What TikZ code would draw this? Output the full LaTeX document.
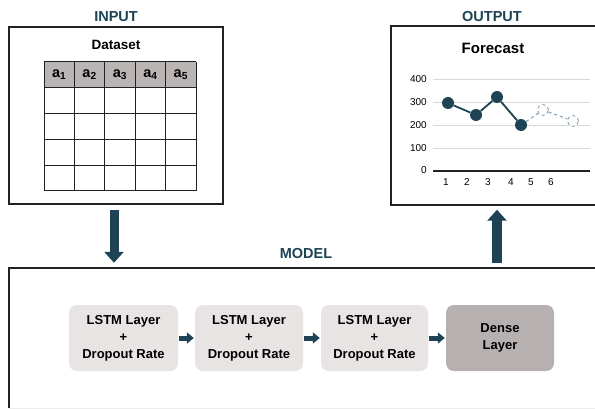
\documentclass[tikz,border=0pt]{standalone}
\usepackage{fontspec}
\setmainfont{Liberation Sans}
\usetikzlibrary{arrows.meta}
\definecolor{teal1}{HTML}{1E4354}
\definecolor{boxgray}{HTML}{E8E4E3}
\definecolor{densegray}{HTML}{B6B0B0}
\definecolor{headgray}{HTML}{BAB4B4}
\definecolor{gridgray}{HTML}{D8D8D8}
\definecolor{dashblue}{HTML}{8EA6B6}
\definecolor{framecol}{HTML}{222222}
\begin{document}
\begin{tikzpicture}[x=1pt,y=-1pt,
  title/.style={font=\fontsize{14.5}{16}\selectfont\bfseries, text=teal1, inner sep=0pt},
  frame/.style={draw=framecol, line width=1.5pt},
  layerbox/.style={fill=boxgray, rounded corners=8pt, minimum height=66pt, align=center,
    font=\fontsize{13}{17}\selectfont\bfseries, inner sep=0pt},
  bigarrow/.style={draw=teal1, line width=9pt, -{Triangle[width=19pt,length=11pt]}},
  smallarrow/.style={draw=teal1, line width=5pt, -{Triangle[width=11pt,length=7pt]}, shorten <=1pt, shorten >=1pt},
  axislabel/.style={font=\fontsize{10}{12}\selectfont, inner sep=0pt},
  pt/.style={circle, fill=teal1, minimum size=12pt, inner sep=0pt},
  ptd/.style={circle, draw=dashblue, dashed, line width=1pt, fill=white, minimum size=11pt, inner sep=0pt},
  tablehead/.style={font=\fontsize{14.5}{16}\selectfont\bfseries, inner sep=0pt}
]
\useasboundingbox (0,0) rectangle (595,409);
\clip (0,0) rectangle (595,409);
\fill[white] (0,0) rectangle (595,409);

% ---------- INPUT ----------
\node[title] (intitle) at (116,17) {INPUT};
\node[frame, minimum width=214pt, minimum height=177pt, inner sep=0pt] (inbox) at (116,115.5) {};
\node[font=\fontsize{13.5}{15}\selectfont\bfseries, inner sep=0pt] (dataset) at (116,45) {Dataset};
\fill[headgray] (44,62) rectangle (196,88);
\foreach \i in {0,...,5} { \draw[framecol, line width=1pt] ({44+30.4*\i},62) -- ({44+30.4*\i},191); }
\foreach \y in {62,88,113.75,139.5,165.25,191} { \draw[framecol, line width=1pt] (44,\y) -- (196,\y); }
\foreach \i in {1,...,5} { \node[tablehead] (h\i) at ({44+30.4*\i-15.2},75) {a\textsubscript{\i}}; }

% ---------- OUTPUT ----------
\node[title] (outtitle) at (492,17) {OUTPUT};
\node[frame, minimum width=229pt, minimum height=179pt, inner sep=0pt] (outbox) at (505.5,115.5) {};
\node[font=\fontsize{15}{17}\selectfont\bfseries, inner sep=0pt] (forecast) at (493,48) {Forecast};
\foreach \y/\t in {79/400,102/300,125/200,148/100} {
  \draw[gridgray, line width=0.8pt] (433,\y) -- (590,\y);
  \node[axislabel, anchor=east] (y\t) at (427,\y) {\t};
}
\draw[framecol, line width=1.5pt] (433,171) -- (590,171);
\node[axislabel, anchor=east] (y0) at (427,170) {0};
\foreach \x/\t in {446/1,467/2,488/3,511/4,531/5,551/6} {
  \node[axislabel] (x\t) at (\x,182) {\t};
}
\node[ptd] (q5) at (543,110) {};
\node[ptd] (q6) at (573,121) {};
\node[pt] (p1) at (448,103) {};
\node[pt] (p2) at (476,115) {};
\node[pt] (p3) at (497,97) {};
\node[pt] (p4) at (521,125) {};
\draw[teal1, line width=1.8pt] (p1) -- (p2) -- (p3) -- (p4);
\draw[dashblue, line width=1.2pt, dashed] (p4) -- (q5) -- (q6);

% ---------- MODEL ----------
\node[title] (modeltitle) at (306,254) {MODEL};
\node[minimum width=611pt, minimum height=140pt, inner sep=0pt] (modelbox) at (314.5,338) {};
\draw[gray!15, line width=0.8pt] (modelbox.south west) -- (modelbox.south east);
\draw[framecol, line width=1.5pt] (modelbox.south west) -- (modelbox.north west) -- (modelbox.north east);

\node[layerbox, minimum width=109pt] (l1) at (123.5,338) {LSTM Layer\\+\\Dropout Rate};
\node[layerbox, minimum width=108pt] (l2) at (249,338) {LSTM Layer\\+\\Dropout Rate};
\node[layerbox, minimum width=107pt] (l3) at (374.5,338) {LSTM Layer\\+\\Dropout Rate};
\node[layerbox, fill=densegray, minimum width=108pt] (dense) at (500,338) {Dense\\Layer};
\draw[smallarrow] (l1) -- (l2);
\draw[smallarrow] (l2) -- (l3);
\draw[smallarrow] (l3) -- (dense);

% ---------- big arrows ----------
\coordinate (downx) at (114,0);
\coordinate (upx) at (497,0);
\draw[bigarrow] ([yshift=-5pt]inbox.south -| downx) -- ([yshift=5pt]modelbox.north -| downx);
\draw[bigarrow, line width=10pt] ([yshift=5pt]modelbox.north -| upx) -- ([yshift=-4pt]outbox.south -| upx);
\end{tikzpicture}
\end{document}
